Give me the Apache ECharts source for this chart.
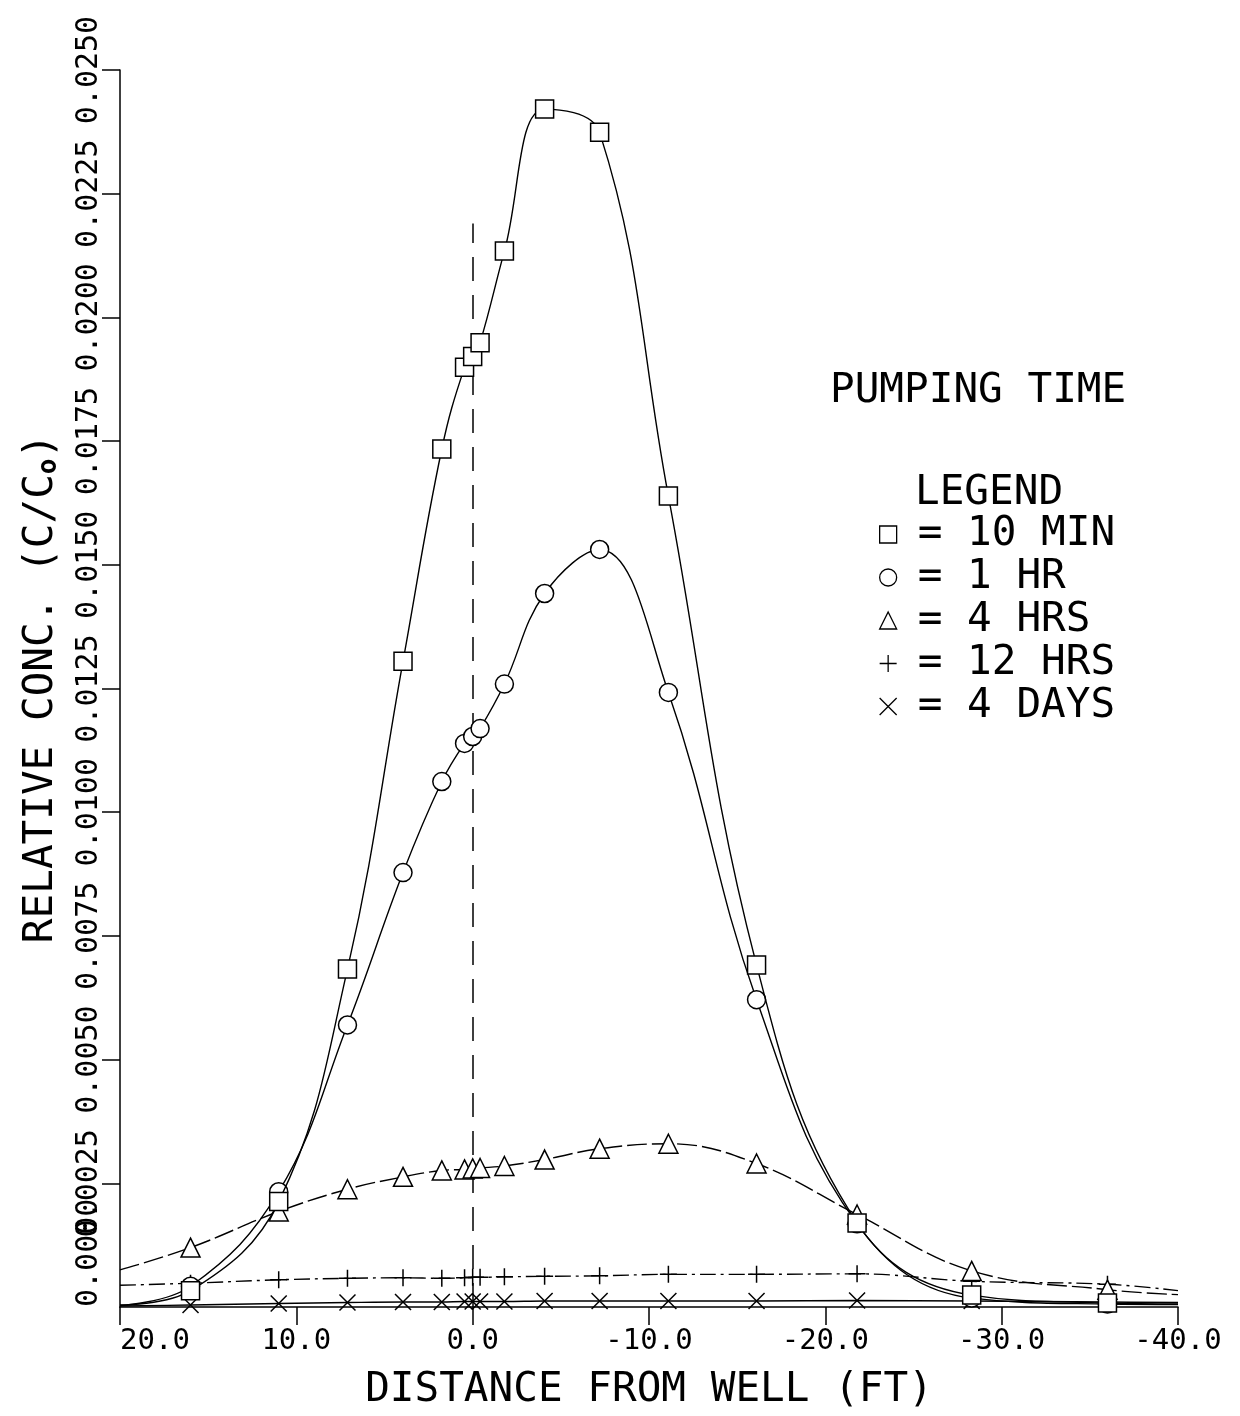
<!DOCTYPE html>
<html><head><meta charset="utf-8">
<script src="https://cdn.jsdelivr.net/npm/echarts@6/dist/echarts.min.js"></script>
<style>html,body{margin:0;padding:0;background:#fff}#c{width:1240px;height:1416px}</style>
</head><body><div id="c"></div>
<script>
// ---- data ----
const X_POS  = [20, 16.0, 11.0, 7.1, 3.95, 1.75, 0.46, 0.0, -0.42, -1.8, -4.08, -7.2, -11.1, -16.1, -21.8, -28.3, -36.0, -40];
const MIN10  = [0.00004, 0.00033, 0.00213, 0.00683, 0.01305, 0.01734, 0.01899, 0.01921, 0.01949, 0.02134, 0.02421, 0.02374, 0.01639, 0.00691, 0.00170, 0.00024, 0.00008, 0.00006];
const HR1    = [0.00003, 0.00042, 0.00233, 0.00570, 0.00878, 0.01062, 0.01139, 0.01153, 0.01169, 0.01259, 0.01442, 0.01531, 0.01242, 0.00621, 0.00168, 0.00018, 0.00006, 0.00005];
const HRS4   = [0.00075, 0.00120, 0.00193, 0.00238, 0.00263, 0.00276, 0.00278, 0.00280, 0.00281, 0.00285, 0.00298, 0.00320, 0.00330, 0.00290, 0.00187, 0.00073, 0.00035, 0.00025];
const HRS12  = [0.00044, 0.00048, 0.00055, 0.00058, 0.00059, 0.00058, 0.00059, 0.00060, 0.00060, 0.00061, 0.00062, 0.00063, 0.00066, 0.00066, 0.00067, 0.00052, 0.00046, 0.00033];
const DAYS4  = [0.00002, 0.00004, 0.00007, 0.00009, 0.00010, 0.00010, 0.00011, 0.00011, 0.00011, 0.00011, 0.00012, 0.00012, 0.00012, 0.00012, 0.00013, 0.00012, 0.00010, 0.00009];
const SERIES_NAMES = ['10 MIN', '1 HR', '4 HRS', '12 HRS', '4 DAYS'];
const X_TICKS = [20, 10, 0, -10, -20, -30, -40];
const Y_TICKS = [0, 0.0025, 0.005, 0.0075, 0.01, 0.0125, 0.015, 0.0175, 0.02, 0.0225, 0.025];
const WELL_X = 0;
const WELL_LINE_TOP = 0.0219;

// ---- styling ----
const FONT = '"DejaVu Sans Mono", "Liberation Mono", monospace';
const PLUS = 'path://M0,5L10,5M5,0L5,10';
const CROSS = 'path://M0,0L10,10M10,0L0,10';
const SYMBOLS = ['rect', 'circle', 'triangle', PLUS, CROSS];
const SIZES = [18, 18, 19, 17, 16];
const DASH = ['solid', 'solid', [20, 5], [16, 5, 3, 5], 'solid'];
const VALUES = [MIN10, HR1, HRS4, HRS12, DAYS4];

function buildData(vals) {
  return X_POS.map((x, i) => {
    const item = { value: [x, vals[i]] };
    if (i === 0 || i === X_POS.length - 1) item.symbol = 'none';
    return item;
  });
}

const series = SERIES_NAMES.map((name, k) => {
  const s = {
    name: name,
    type: 'line',
    yAxisIndex: 0,
    data: buildData(VALUES[k]),
    smooth: 0.4,
    symbol: SYMBOLS[k],
    symbolSize: SIZES[k],
    symbolKeepAspect: true,
    showAllSymbol: true,
    clip: true,
    itemStyle: { color: '#fff', borderColor: '#000', borderWidth: 1.5 },
    lineStyle: { color: '#000', width: 1.4, type: DASH[k] },
    emphasis: { disabled: true },
    z: 10 - k
  };
  if (k === 0) {
    s.markLine = {
      silent: true,
      symbol: ['none', 'none'],
      label: { show: false },
      lineStyle: { type: [24, 14], color: '#000', width: 1.5 },
      data: [[{ coord: [WELL_X, 0] }, { coord: [WELL_X, WELL_LINE_TOP] }]]
    };
  }
  return s;
});

const Y_MIN = Y_TICKS[0], Y_MAX = Y_TICKS[Y_TICKS.length - 1], Y_INT = Y_TICKS[1] - Y_TICKS[0];
const yLabelStyle = { fontFamily: FONT, fontSize: 30, color: '#000', rotate: 90, margin: 16 };

const chart = echarts.init(document.getElementById('c'), null, { renderer: 'canvas' });
chart.setOption({
  animation: false,
  backgroundColor: '#fff',
  grid: { left: 120, right: 62, top: 70, bottom: 108, containLabel: false },
  title: [
    { text: 'PUMPING TIME', left: 830, top: 371, padding: 0,
      textStyle: { fontFamily: FONT, fontSize: 41, fontWeight: 'normal', color: '#000' } },
    { text: 'LEGEND', left: 915, top: 473, padding: 0,
      textStyle: { fontFamily: FONT, fontSize: 41, fontWeight: 'normal', color: '#000' } }
  ],
  legend: {
    orient: 'vertical', left: 874, top: 509,
    itemWidth: 17, itemHeight: 17, itemGap: 2, selectedMode: false,
    data: SERIES_NAMES.map((n, k) => ({ name: n, icon: SYMBOLS[k] })),
    formatter: n => '= ' + n,
    itemStyle: { color: '#fff', borderColor: '#000', borderWidth: 1.3 },
    textStyle: { fontFamily: FONT, fontSize: 41, lineHeight: 41, color: '#000', padding: [0, 0, 0, 16] }
  },
  xAxis: {
    type: 'value', inverse: true,
    min: Math.min(...X_TICKS), max: Math.max(...X_TICKS), interval: X_TICKS[0] - X_TICKS[1],
    splitLine: { show: false },
    axisLine: { show: true, onZero: false, lineStyle: { color: '#000', width: 1.5 } },
    axisTick: { show: true, inside: false, length: 18, lineStyle: { color: '#000', width: 1.5 } },
    axisLabel: { fontFamily: FONT, fontSize: 29, color: '#000', margin: 20,
      showMinLabel: true, showMaxLabel: true,
      alignMaxLabel: 'left', formatter: v => (Math.abs(v) < 1e-9 ? 0 : v).toFixed(1) },
    name: 'DISTANCE FROM WELL (FT)', nameLocation: 'middle', nameGap: 63,
    nameTextStyle: { fontFamily: FONT, fontSize: 41, color: '#000' }
  },
  yAxis: [
    {
      type: 'value', position: 'left',
      min: Y_MIN, max: Y_MAX, interval: Y_INT,
      splitLine: { show: false },
      axisLine: { show: true, onZero: false, lineStyle: { color: '#000', width: 1.5 } },
      axisTick: { show: true, inside: false, length: 18, lineStyle: { color: '#000', width: 1.5 } },
      axisLabel: Object.assign({}, yLabelStyle, { showMinLabel: false, showMaxLabel: true,
        formatter: v => v.toFixed(4) }),
      name: 'RELATIVE CONC. (C/C{sub|o})', nameLocation: 'middle', nameGap: 58,
      nameTextStyle: { fontFamily: FONT, fontSize: 41, color: '#000',
        rich: { sub: { fontFamily: FONT, fontSize: 26, fontWeight: 'bold', color: '#000', verticalAlign: 'bottom', padding: [14, 0, 0, 0] } } }
    },
    {
      // carries only the zero label, written upward from its tick as in the plotter original
      type: 'value', position: 'left', offset: 0,
      min: Y_MIN, max: Y_MAX, interval: Y_INT,
      splitLine: { show: false },
      axisLine: { show: false, onZero: false },
      axisTick: { show: false },
      axisLabel: Object.assign({}, yLabelStyle, { showMinLabel: true, showMaxLabel: false,
        alignMinLabel: 'left', formatter: v => (Math.abs(v - Y_MIN) < 1e-12 ? v.toFixed(4) : '') })
    }
  ],
  series: series
});
</script>
</body></html>
